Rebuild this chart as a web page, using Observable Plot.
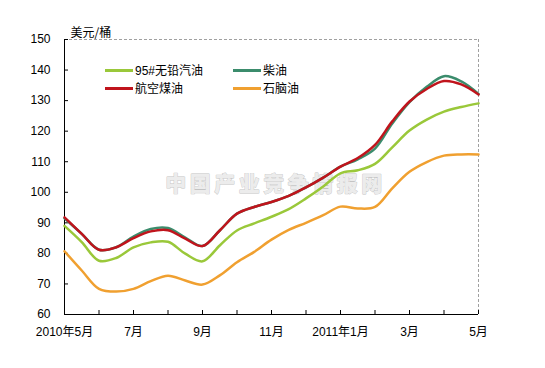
<!DOCTYPE html>
<html>
<head>
<meta charset="utf-8">
<script src="https://cdn.jsdelivr.net/npm/d3@7"></script>
<script src="https://cdn.jsdelivr.net/npm/@observablehq/plot@0.6"></script>
<style>
  body { margin: 0; background: #fff; }
  #wrap { position: relative; width: 545px; height: 368px; background: #fff;
          font-family: "Liberation Sans", Arial, "Noto Sans CJK SC", sans-serif; }
  .lg { position: absolute; font-size: 12px; line-height: 14px; color: #000; white-space: nowrap;
        font-family: "Liberation Sans", Arial, "Noto Sans CJK SC", sans-serif; }
  .lg i { display: inline-block; width: 28px; height: 3px; vertical-align: middle; margin-right: 2px; position: relative; top: -1px; }
</style>
</head>
<body>
<div id="wrap"></div>
<script>
// ---- data (half-month steps, index 0 = 2010年5月, 12 = 2011年5月) ----
const months = [0, 0.5, 1, 1.5, 2, 2.5, 3, 3.5, 4, 4.5, 5, 5.5, 6, 6.5, 7, 7.5, 8, 8.5, 9, 9.5, 10, 10.5, 11, 11.5, 12];
const gasoline = [89.0, 83.7, 77.6, 78.5, 82.0, 83.6, 83.8, 79.9, 77.4, 82.6, 87.5, 89.8, 92.0, 94.5, 98.0, 101.9, 106.2, 107.2, 109.3, 114.7, 120.2, 123.8, 126.4, 127.9, 129.1];
const diesel   = [91.5, 86.4, 81.2, 82.0, 85.5, 88.0, 88.3, 85.2, 82.4, 87.5, 93.0, 95.2, 96.8, 98.8, 101.6, 104.8, 108.4, 110.8, 114.3, 122.5, 129.5, 134.5, 138.0, 136.3, 132.2];
const jetFuel  = [91.8, 86.4, 81.2, 82.0, 85.0, 87.2, 87.6, 84.8, 82.4, 87.5, 93.0, 95.2, 96.8, 98.8, 101.6, 104.8, 108.4, 111.2, 115.5, 123.2, 129.7, 133.8, 136.4, 135.3, 132.0];
const naphtha  = [80.7, 74.4, 68.4, 67.5, 68.4, 70.9, 72.7, 71.1, 69.8, 72.8, 77.1, 80.5, 84.5, 87.7, 90.0, 92.5, 95.3, 94.7, 95.2, 101.3, 106.7, 109.9, 112.0, 112.4, 112.4];

const seriesNames = ["95#无铅汽油", "柴油", "航空煤油", "石脑油"];
const seriesColors = ["#9ac83a", "#3b8c6c", "#c0141c", "#f0a030"];
const xTickValues = [0, 1, 2, 3, 4, 5, 6, 7, 8, 9, 10, 11, 12];
const xTickLabels = ["2010年5月", "", "7月", "", "9月", "", "11月", "", "2011年1月", "", "3月", "", "5月"];
const yTicks = [60, 70, 80, 90, 100, 110, 120, 130, 140, 150];
const yUnit = "美元/桶";
const watermark = "中国产业竞争情报网";

// ---- build long table ----
const seriesValues = [gasoline, diesel, jetFuel, naphtha];
const drawOrder = [3, 0, 1, 2]; // naphtha, gasoline, diesel, jet fuel on top
const rows = [];
drawOrder.forEach(s => {
  months.forEach((m, i) => rows.push({ m, v: seriesValues[s][i], name: seriesNames[s] }));
});

const fontFam = "Liberation Sans, Arial, Noto Sans CJK SC, sans-serif";

const chart = Plot.plot({
  width: 545,
  height: 368,
  marginLeft: 64,
  marginRight: 67,
  marginTop: 39,
  marginBottom: 54,
  style: { fontFamily: fontFam, fontSize: "12px", color: "#000", background: "#fff" },
  x: { domain: [0, 12] },
  y: { domain: [60, 150] },
  color: { domain: seriesNames, range: seriesColors },
  marks: [
    // watermark
    Plot.text([watermark], {
      frameAnchor: "middle", dx: 4, dy: 7,
      fontSize: 21, fontWeight: 900, fill: "#ececec", stroke: "#c4c4c4", strokeWidth: 0.8,
      fontFamily: "Noto Sans CJK SC"
    }),
    // plot-area border (dashed top and right)
    Plot.ruleY([150], { stroke: "#a0a0a0", strokeDasharray: "3,2" }),
    Plot.ruleX([12], { stroke: "#a0a0a0", strokeDasharray: "3,2" }),
    // axes
    Plot.axisY({ ticks: yTicks, tickSize: -4, tickPadding: 18, label: null, fontSize: 12 }),
    Plot.axisX({ ticks: xTickValues, tickSize: -4, tickPadding: 17, label: null,
                 tickFormat: (d) => xTickLabels[xTickValues.indexOf(d)], fontSize: 12 }),
    Plot.ruleX([0], { stroke: "#000" }),
    Plot.ruleY([60], { stroke: "#000" }),
    // unit label
    Plot.text([yUnit], { frameAnchor: "top-left", dx: 6, dy: -11, textAnchor: "start", fontSize: 12,
                         fontFamily: "Noto Sans CJK SC" }),
    // lines
    Plot.line(rows, { x: "m", y: "v", z: "name", stroke: "name", strokeWidth: 2.5, curve: "catmull-rom" })
  ]
});

// spread watermark letters
d3.select(chart).selectAll("text").filter(function () { return this.textContent === watermark; })
  .attr("letter-spacing", "3.5px");

const wrap = document.getElementById("wrap");
wrap.appendChild(chart);

// legend inside plot area (two columns, two rows)
const legendPos = [
  { s: 0, left: 105, top: 64 },
  { s: 1, left: 233, top: 64 },
  { s: 2, left: 105, top: 82 },
  { s: 3, left: 233, top: 82 }
];
legendPos.forEach(p => {
  const d = document.createElement("div");
  d.className = "lg";
  d.style.left = p.left + "px";
  d.style.top = p.top + "px";
  d.innerHTML = `<i style="background:${seriesColors[p.s]}"></i>${seriesNames[p.s]}`;
  wrap.appendChild(d);
});
</script>
</body>
</html>
